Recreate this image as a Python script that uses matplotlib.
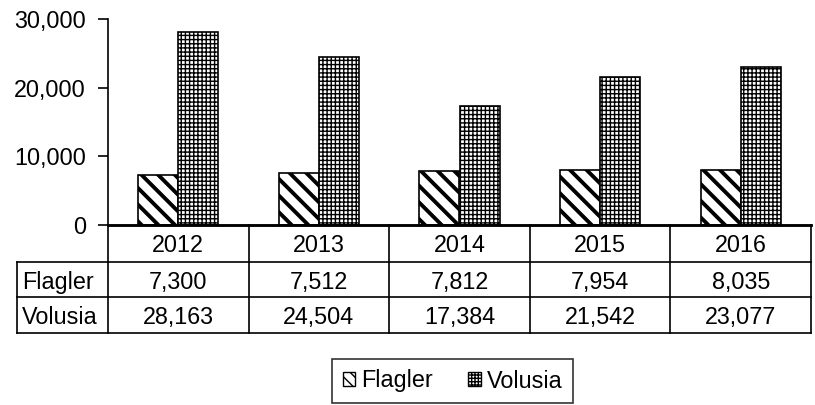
import matplotlib
matplotlib.use("Agg")
import matplotlib.pyplot as plt
from matplotlib.patches import Patch
from matplotlib.transforms import blended_transform_factory
from matplotlib.lines import Line2D

years = ["2012", "2013", "2014", "2015", "2016"]
series_names = ["Flagler", "Volusia"]
flagler = [7300, 7512, 7812, 7954, 8035]
volusia = [28163, 24504, 17384, 21542, 23077]
yticks = [0, 10000, 20000, 30000]

plt.rcParams['font.family'] = ['Liberation Sans', 'DejaVu Sans']
FS = 16.8

W, H = 815, 405
fig = plt.figure(figsize=(W / 100, H / 100), dpi=100)
ax_l, ax_r, ax_t, ax_b = 108, 811, 19, 225
ax = fig.add_axes([ax_l / W, 1 - ax_b / H, (ax_r - ax_l) / W, (ax_b - ax_t) / H])

n = len(years)
x = list(range(n))
bw = 0.285
hatches = ['\\\\', '++++']
hlw = [2.8, 1.0]
for i, (vals, name) in enumerate(zip([flagler, volusia], series_names)):
    offs = [xi + (i - 0.5) * bw for xi in x]
    bars = ax.bar(offs, vals, width=bw, facecolor='white', edgecolor='black',
                  linewidth=1.2, hatch=hatches[i], label=name, zorder=2)
    for b in bars:
        if hasattr(b, 'set_hatch_linewidth'):
            b.set_hatch_linewidth(hlw[i])

ax.set_xlim(-0.5, n - 0.5)
ax.set_ylim(0, 30000)
ax.set_yticks(yticks)
ax.set_yticklabels([f"{v:,}" for v in yticks], fontsize=FS)
ax.tick_params(axis='y', direction='out', length=7, width=1.2, pad=9)
ax.set_xticks([])
for s in ['top', 'right']:
    ax.spines[s].set_visible(False)
ax.spines['left'].set_linewidth(1.2)
ax.spines['bottom'].set_linewidth(1.8)

# table
axh = ax_b - ax_t
def ya(py):
    return -(py - ax_b) / axh
def xa(px):
    return (px - ax_l) / (ax_r - ax_l)

row_lines = [225, 262, 297, 333]
label_left = 17
bt = blended_transform_factory(ax.transData, ax.transAxes)
lw = 1.2
for k, py in enumerate(row_lines):
    x0 = 0 if k == 0 else xa(label_left)
    lwk = 1.8 if k == 0 else lw
    ax.add_line(Line2D([x0, 1], [ya(py), ya(py)], transform=ax.transAxes,
                       color='black', lw=lwk, clip_on=False))
for j in range(n + 1):
    xb = j - 0.5
    ax.add_line(Line2D([xb, xb], [ya(225), ya(333)], transform=bt,
                       color='black', lw=lw, clip_on=False))
ax.add_line(Line2D([xa(label_left)] * 2, [ya(262), ya(333)], transform=ax.transAxes,
                   color='black', lw=lw, clip_on=False))

rows = [years, [f"{v:,}" for v in flagler], [f"{v:,}" for v in volusia]]
for r, row in enumerate(rows):
    yc = ya((row_lines[r] + row_lines[r + 1]) / 2)
    for j, txt in enumerate(row):
        ax.text(j, yc, txt, transform=bt, ha='center', va='center_baseline', fontsize=FS)
for r, name in enumerate(series_names, start=1):
    yc = ya((row_lines[r] + row_lines[r + 1]) / 2)
    ax.text(xa(label_left + 5), yc, name, transform=ax.transAxes, ha='left',
            va='center_baseline', fontsize=FS)

handles = [Patch(facecolor='white', edgecolor='black', hatch=h, label=nm)
           for h, nm in zip(['\\\\\\', '+++++'], series_names)]
leg = fig.legend(handles=handles, loc='center', ncol=2,
                 bbox_to_anchor=((327 + 578) / 2 / W, 1 - 381 / H),
                 fontsize=FS, frameon=True, fancybox=False, edgecolor='black',
                 handlelength=0.55, handleheight=0.55, handletextpad=0.25,
                 columnspacing=1.5, borderpad=0.45, borderaxespad=0)
leg.get_frame().set_linewidth(1.2)

fig.savefig("out.png", dpi=100)
